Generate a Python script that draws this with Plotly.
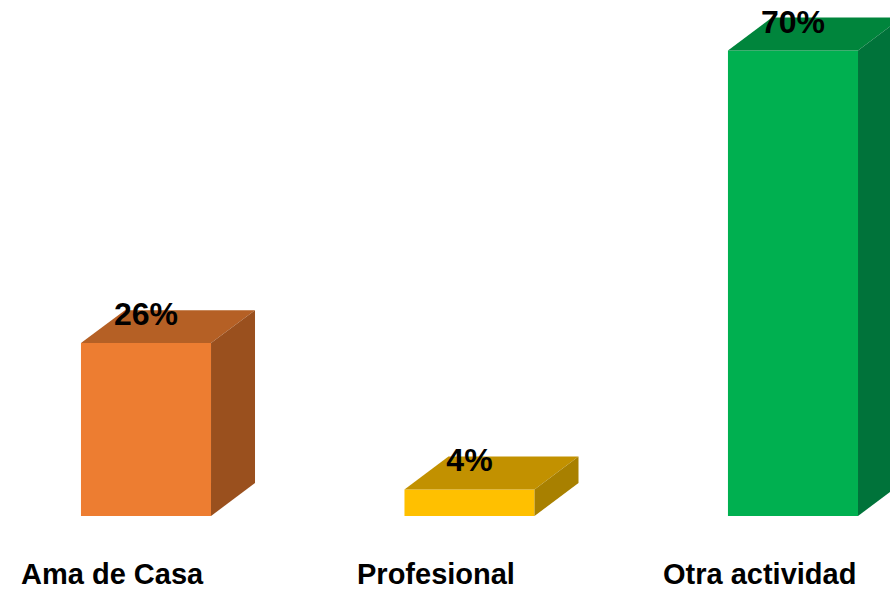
import plotly.graph_objects as go

# Data
categories = ["Ama de Casa", "Profesional", "Otra actividad"]
values = [26, 4, 70]
front_colors = ["#ED7D31", "#FFC000", "#00B050"]
top_colors = ["#B56025", "#C29100", "#00853C"]
side_colors = ["#9A501E", "#A88000", "#00733A"]

# Pseudo-3D geometry in axis units
BAR_W = 0.402     # width of the front face
DEPTH_X = 0.136   # horizontal depth offset
DEPTH_Y = 4.96    # vertical depth offset
LABEL_SHIFT = -0.105

fig = go.Figure()

xs = list(range(len(categories)))

# Front faces
fig.add_trace(go.Bar(
    x=xs, y=values, width=BAR_W,
    marker=dict(color=front_colors, line=dict(width=0)),
    hoverinfo="skip", showlegend=False,
))

# Top and side faces derived from each bar's value
for i, v in enumerate(values):
    x0, x1 = i - BAR_W / 2, i + BAR_W / 2
    fig.add_trace(go.Scatter(
        x=[x0, x1, x1 + DEPTH_X, x0 + DEPTH_X, x0],
        y=[v, v, v + DEPTH_Y, v + DEPTH_Y, v],
        fill="toself", fillcolor=top_colors[i], mode="lines",
        line=dict(width=0, color=top_colors[i]),
        hoverinfo="skip", showlegend=False,
    ))
    fig.add_trace(go.Scatter(
        x=[x1, x1, x1 + DEPTH_X, x1 + DEPTH_X, x1],
        y=[0, v, v + DEPTH_Y, DEPTH_Y, 0],
        fill="toself", fillcolor=side_colors[i], mode="lines",
        line=dict(width=0, color=side_colors[i]),
        hoverinfo="skip", showlegend=False,
    ))

# Value labels
fig.add_trace(go.Scatter(
    x=xs, y=[v + 3.9 for v in values],
    text=[f"{v}%" for v in values], mode="text",
    textposition="middle center",
    textfont=dict(family="Liberation Sans, Arial, sans-serif", size=32, color="#000000", weight="bold"),
    hoverinfo="skip", showlegend=False, cliponaxis=False,
))

# Category labels
for i, name in enumerate(categories):
    fig.add_annotation(
        x=i + LABEL_SHIFT, y=-8.7, xref="x", yref="y",
        text=f"<b>{name}</b>", showarrow=False,
        xanchor="center", yanchor="middle",
        font=dict(family="Liberation Sans, Arial, sans-serif", size=29, color="#000000"),
    )

fig.update_layout(
    width=890, height=590,
    margin=dict(l=0, r=0, t=0, b=0),
    paper_bgcolor="#FFFFFF", plot_bgcolor="#FFFFFF",
    showlegend=False,
    xaxis=dict(range=[-0.4513, 2.2999], visible=False, fixedrange=True),
    yaxis=dict(range=[-11.13, 77.6], visible=False, fixedrange=True),
)

fig.write_html("out.html")
